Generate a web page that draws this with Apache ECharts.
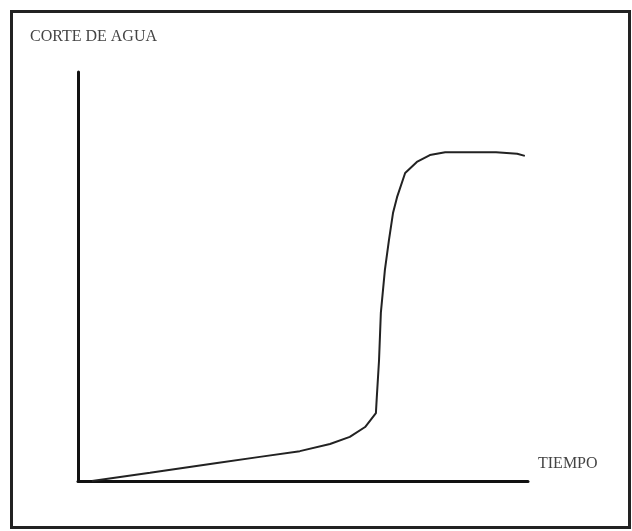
<!DOCTYPE html>
<html>
<head>
<meta charset="utf-8">
<script src="https://cdn.jsdelivr.net/npm/echarts@6/dist/echarts.min.js"></script>
<style>
html,body{margin:0;padding:0;background:#fff;}
#chart{width:632px;height:531px;}
</style>
</head>
<body>
<div id="chart"></div>
<script>
var yAxisTitle = "CORTE DE AGUA";
var xAxisTitle = "TIEMPO";
var timeValues = [3.1, 16.0, 30.9, 40.4, 49.3, 56.0, 60.4, 63.8, 66.2, 66.4, 66.9, 67.3, 68.2, 69.1, 70.0, 70.9, 72.7, 75.3, 78.2, 81.6, 92.9, 97.6, 99.3];
var waterCutValues = [0, 2.0, 4.4, 5.9, 7.3, 9.05, 10.8, 13.2, 16.6, 20.5, 29.6, 41.1, 51.6, 58.9, 65.5, 69.4, 75.3, 78.0, 79.7, 80.4, 80.4, 80.0, 79.5];

var seriesData = timeValues.map(function (t, i) { return [t, waterCutValues[i]]; });

var chart = echarts.init(document.getElementById('chart'), null, {renderer: 'canvas'});
chart.setOption({
  animation: false,
  backgroundColor: '#ffffff',
  grid: {left: 78, top: 72, width: 450, height: 409, containLabel: false},
  xAxis: {
    type: 'value', min: 0, max: 100,
    axisLine: {show: true, onZero: false, lineStyle: {color: '#111', width: 3}},
    axisTick: {show: false}, axisLabel: {show: false}, splitLine: {show: false}
  },
  yAxis: {
    type: 'value', min: 0, max: 100,
    axisLine: {show: true, onZero: false, lineStyle: {color: '#111', width: 3}},
    axisTick: {show: false}, axisLabel: {show: false}, splitLine: {show: false}
  },
  series: [{
    type: 'line',
    data: seriesData,
    showSymbol: false,
    smooth: false,
    lineStyle: {color: '#222', width: 2}
  }],
  graphic: [
    {type: 'rect', shape: {x: 11.5, y: 11.5, width: 618, height: 516}, style: {fill: 'none', stroke: '#222', lineWidth: 3}, z: 10},
    {type: 'text', left: 30, top: 29, style: {text: yAxisTitle, font: '16px "Liberation Serif", "DejaVu Serif", serif', fill: '#444'}},
    {type: 'text', left: 538, top: 456, style: {text: xAxisTitle, font: '16px "Liberation Serif", "DejaVu Serif", serif', fill: '#444'}}
  ]
});
</script>
</body>
</html>
